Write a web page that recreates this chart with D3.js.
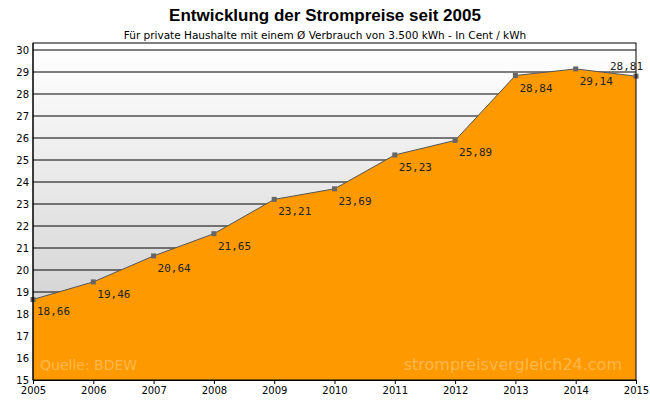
<!DOCTYPE html><html><head><meta charset="utf-8"><script src="https://cdn.jsdelivr.net/npm/d3@7"></script>
<style>body{margin:0;background:#fff}</style></head><body><svg id="c" width="650" height="400"></svg><script>
const years=[2005,2006,2007,2008,2009,2010,2011,2012,2013,2014,2015];
const prices=[18.66,19.46,20.64,21.65,23.21,23.69,25.23,25.89,28.84,29.14,28.81];
const yTicks=[15,16,17,18,19,20,21,22,23,24,25,26,27,28,29,30];
const svg=d3.select("#c");
const L=33,R=636,T=50,B=380;
const x=d3.scaleLinear().domain([2005,2015]).range([L,R]);
const y=d3.scaleLinear().domain([15,30]).range([B,T]);
const g=svg.append("defs").append("linearGradient").attr("id","bg").attr("x1",0).attr("y1",0).attr("x2",0).attr("y2",1);
g.append("stop").attr("offset",0).attr("stop-color","#ffffff");
g.append("stop").attr("offset",1).attr("stop-color","#c8c8c8");
svg.append("rect").attr("x",L).attr("y",T).attr("width",R-L).attr("height",B-T).attr("fill","url(#bg)");
svg.append("g").selectAll("line").data(yTicks).join("line").attr("x1",L).attr("x2",R).attr("y1",d=>y(d)).attr("y2",d=>y(d)).attr("stroke","#000").attr("stroke-width",1);
const pts=years.map((d,i)=>[d,prices[i]]);
svg.append("path").datum(pts).attr("d",d3.area().x(d=>x(d[0])).y0(B).y1(d=>y(d[1]))).attr("fill","#ff9900");
svg.append("path").datum(pts).attr("d",d3.line().x(d=>x(d[0])).y(d=>y(d[1]))).attr("fill","none").attr("stroke","#555").attr("stroke-width",1);
svg.append("g").selectAll("rect").data(pts).join("rect").attr("x",d=>x(d[0])-2.5).attr("y",d=>y(d[1])-2.5).attr("width",5).attr("height",5).attr("fill","#666");
svg.append("g").selectAll("text").data(pts).join("text").attr("x",(d,i)=>i==10?x(d[0])-26:x(d[0])+4).attr("y",(d,i)=>i==10?y(d[1])-6:y(d[1])+16)
 .attr("font-family","DejaVu Sans Mono").attr("font-size",11).attr("fill","#222").text(d=>d[1].toFixed(2).replace(".",","));
svg.append("text").attr("x",40).attr("y",370).attr("font-family","Verdana, DejaVu Sans").attr("font-size",14).attr("fill","#ffb84d").text("Quelle: BDEW");
svg.append("text").attr("x",622).attr("y",370).attr("text-anchor","end").attr("font-family","Verdana, DejaVu Sans").attr("font-size",16).attr("fill","#ffb84d").text("strompreisvergleich24.com");
svg.append("rect").attr("x",L).attr("y",T-7).attr("width",R-L).attr("height",B-T+7).attr("fill","none").attr("stroke","#000");
svg.append("line").attr("x1",L).attr("x2",L).attr("y1",T-7).attr("y2",B).attr("stroke","#000");
svg.append("g").selectAll("text").data(yTicks).join("text").attr("x",L-4).attr("y",d=>y(d)+4).attr("text-anchor","end").attr("font-family","Verdana, DejaVu Sans").attr("font-size",10).text(d=>d);
const xa=svg.append("g").attr("transform",`translate(0,${B})`).call(d3.axisBottom(x).tickValues(years).tickFormat(d3.format("d")).tickSize(4));
xa.selectAll("text").attr("font-family","Verdana, DejaVu Sans").attr("font-size",10).attr("fill","#000");
xa.select(".domain").attr("stroke","#000");
svg.append("text").attr("x",325).attr("y",21).attr("text-anchor","middle").attr("font-family","Arial, Liberation Sans").attr("font-weight","bold").attr("font-size",17).text("Entwicklung der Strompreise seit 2005");
svg.append("text").attr("x",325).attr("y",39).attr("text-anchor","middle").attr("font-family","Verdana, DejaVu Sans").attr("font-size",10.5).text("Für private Haushalte mit einem Ø Verbrauch von 3.500 kWh - In Cent / kWh");
</script></body></html>
